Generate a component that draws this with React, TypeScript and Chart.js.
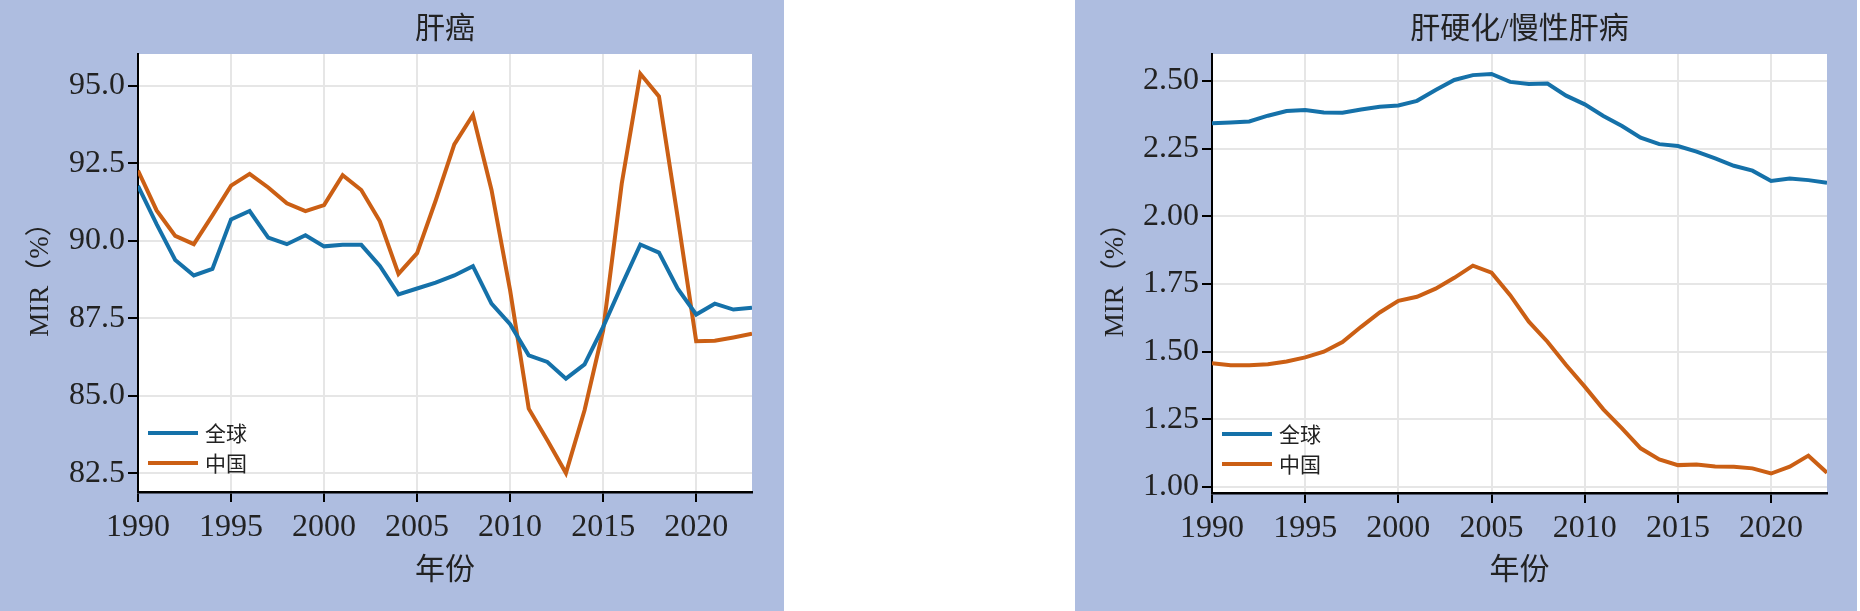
import { useEffect, useRef } from "react";
import { Chart, registerables, type ChartConfiguration, type Plugin } from "chart.js";

Chart.register(...registerables);

const years = [
  1990, 1991, 1992, 1993, 1994, 1995, 1996, 1997, 1998, 1999, 2000, 2001, 2002, 2003, 2004, 2005, 2006,
  2007, 2008, 2009, 2010, 2011, 2012, 2013, 2014, 2015, 2016, 2017, 2018, 2019, 2020, 2021, 2022, 2023,
];
const yearTicks = [1990, 1995, 2000, 2005, 2010, 2015, 2020];
const seriesLabels = ["全球", "中国"];

const cancerGlobal = [
  91.77, 90.54, 89.38, 88.88, 89.09, 90.69, 90.96, 90.1, 89.89, 90.18, 89.82, 89.87, 89.87, 89.19, 88.27,
  88.46, 88.65, 88.88, 89.18, 87.97, 87.31, 86.3, 86.09, 85.55, 86.01, 87.22, 88.57, 89.88, 89.62, 88.46,
  87.62, 87.97, 87.78, 87.84,
];
const cancerChina = [
  92.27, 90.98, 90.16, 89.89, 90.82, 91.78, 92.16, 91.72, 91.21, 90.96, 91.15, 92.12, 91.64, 90.63, 88.93,
  89.6, 91.3, 93.11, 94.06, 91.64, 88.4, 84.58, 83.56, 82.5, 84.53, 87.11, 91.85, 95.39, 94.66, 90.78, 86.76,
  86.77, 86.88, 87.0,
];
const cancerTicks = [82.5, 85.0, 87.5, 90.0, 92.5, 95.0];

const cirrhosisGlobal = [
  2.344, 2.347, 2.351, 2.372, 2.389, 2.393, 2.384, 2.383, 2.395, 2.405, 2.41, 2.427, 2.467, 2.504, 2.522,
  2.526, 2.497, 2.489, 2.491, 2.446, 2.414, 2.371, 2.334, 2.291, 2.267, 2.26, 2.239, 2.214, 2.187, 2.169,
  2.131, 2.14, 2.134, 2.124,
];
const cirrhosisChina = [
  1.457, 1.45, 1.45, 1.454, 1.464, 1.479, 1.5, 1.536, 1.592, 1.645, 1.688, 1.703, 1.733, 1.773, 1.818, 1.792,
  1.709, 1.611, 1.537, 1.451, 1.371, 1.287, 1.217, 1.143, 1.102, 1.081, 1.083, 1.076, 1.075, 1.069, 1.05,
  1.075, 1.116, 1.053,
];
const cirrhosisTicks = [1.0, 1.25, 1.5, 1.75, 2.0, 2.25, 2.5];

const BLUE = "#1571a9";
const ORANGE = "#cb5f14";
const PANEL = "#aebde0";
const INK = "#222222";
const GRID = "#e6e6e6";
const SERIF = "'Liberation Serif', 'Noto Sans CJK SC', serif";
const CJK = "'Noto Sans CJK SC', sans-serif";

const plotBackground: Plugin<"line"> = {
  id: "plotBackground",
  beforeDraw(chart) {
    const { ctx, chartArea } = chart;
    ctx.save();
    ctx.fillStyle = "#ffffff";
    ctx.fillRect(chartArea.left, chartArea.top, chartArea.right - chartArea.left, chartArea.bottom - chartArea.top);
    ctx.restore();
  },
};

// legend sits inside the plot, bottom-left
const insideLegend: Plugin<"line"> = {
  id: "insideLegend",
  afterDatasetsDraw(chart) {
    const { ctx, chartArea } = chart;
    ctx.save();
    ctx.font = `21px ${CJK}`;
    ctx.textBaseline = "middle";
    chart.data.datasets.forEach((ds, i) => {
      const y = chartArea.bottom - 59 + i * 30;
      ctx.strokeStyle = ds.borderColor as string;
      ctx.lineWidth = 4;
      ctx.beginPath();
      ctx.moveTo(chartArea.left + 10, y);
      ctx.lineTo(chartArea.left + 60, y);
      ctx.stroke();
      ctx.fillStyle = INK;
      ctx.fillText(ds.label ?? "", chartArea.left + 67, y);
    });
    ctx.restore();
  },
};

type PanelProps = {
  title: string;
  globalValues: number[];
  chinaValues: number[];
  yTicks: number[];
  yMin: number;
  yMax: number;
  digits: number;
  width: number;
  yWidth: number;
  xHeight: number;
  rightPad: number;
};

function PanelChart(props: PanelProps) {
  const canvasRef = useRef<HTMLCanvasElement>(null);
  const chartRef = useRef<Chart<"line"> | null>(null);

  useEffect(() => {
    const canvas = canvasRef.current;
    if (!canvas) {
      return;
    }
    if (chartRef.current) {
      chartRef.current.destroy();
    }

    const tickFont = { family: SERIF, size: 32 };

    const config: ChartConfiguration<"line"> = {
      type: "line",
      data: {
        datasets: [
          {
            label: seriesLabels[0],
            data: years.map((x, i) => ({ x, y: props.globalValues[i] })),
            borderColor: BLUE,
            borderWidth: 4,
            pointRadius: 0,
            tension: 0,
          },
          {
            label: seriesLabels[1],
            data: years.map((x, i) => ({ x, y: props.chinaValues[i] })),
            borderColor: ORANGE,
            borderWidth: 4,
            pointRadius: 0,
            tension: 0,
          },
        ],
      },
      options: {
        responsive: false,
        animation: false,
        layout: { padding: { left: 0, right: props.rightPad, top: 0, bottom: 0 } },
        plugins: {
          legend: { display: false },
          tooltip: { enabled: false },
          title: {
            display: true,
            text: props.title,
            fullSize: false,
            color: INK,
            font: { family: SERIF, size: 30, weight: "normal", lineHeight: 1.2 },
            padding: { top: 12, bottom: 6 },
          },
        },
        scales: {
          x: {
            type: "linear",
            min: 1990,
            max: 2023,
            afterFit: (scale) => {
              scale.height = props.xHeight;
            },
            afterBuildTicks: (scale) => {
              scale.ticks = yearTicks.map((value) => ({ value }));
            },
            ticks: {
              color: INK,
              font: tickFont,
              padding: 6,
              maxRotation: 0,
              autoSkip: false,
              callback: (v) => String(v),
            },
            grid: { color: GRID, lineWidth: 2, tickLength: 10, tickColor: "#000000", tickWidth: 2 },
            border: { color: "#000000", width: 2.5 },
            title: {
              display: true,
              text: "年份",
              color: INK,
              font: { family: SERIF, size: 30, lineHeight: 1.2 },
              padding: { top: 0, bottom: 22 },
            },
          },
          y: {
            type: "linear",
            min: props.yMin,
            max: props.yMax,
            afterFit: (scale) => {
              scale.width = props.yWidth;
            },
            afterBuildTicks: (scale) => {
              scale.ticks = props.yTicks.map((value) => ({ value }));
            },
            ticks: {
              color: INK,
              font: tickFont,
              padding: 3,
              callback: (v) => Number(v).toFixed(props.digits),
            },
            grid: { color: GRID, lineWidth: 2, tickLength: 10, tickColor: "#000000", tickWidth: 2 },
            border: { color: "#000000", width: 2 },
            title: {
              display: true,
              text: "MIR（%）",
              color: INK,
              font: { family: SERIF, size: 27, lineHeight: 1.2 },
              padding: { top: 25, bottom: 0 },
            },
          },
        },
      },
      plugins: [plotBackground, insideLegend],
    };

    chartRef.current = new Chart(canvas, config);

    return () => {
      chartRef.current?.destroy();
      chartRef.current = null;
    };
  }, [props]);

  return <canvas ref={canvasRef} width={props.width} height={611} />;
}

const cancerPanel: PanelProps = {
  title: "肝癌",
  globalValues: cancerGlobal,
  chinaValues: cancerChina,
  yTicks: cancerTicks,
  yMin: 81.89,
  yMax: 96.03,
  digits: 1,
  width: 784,
  yWidth: 138,
  xHeight: 119,
  rightPad: 32,
};

const cirrhosisPanel: PanelProps = {
  title: "肝硬化/慢性肝病",
  globalValues: cirrhosisGlobal,
  chinaValues: cirrhosisChina,
  yTicks: cirrhosisTicks,
  yMin: 0.978,
  yMax: 2.6,
  digits: 2,
  width: 782,
  yWidth: 137,
  xHeight: 118,
  rightPad: 30,
};

export default function App() {
  useEffect(() => {
    document.body.style.margin = "0";
  }, []);

  return (
    <div style={{ position: "relative", width: 1860, height: 611, background: "#ffffff" }}>
      <div style={{ position: "absolute", left: 0, top: 0, width: 784, height: 611, background: PANEL }}>
        <PanelChart {...cancerPanel} />
      </div>
      <div style={{ position: "absolute", left: 1075, top: 0, width: 782, height: 611, background: PANEL }}>
        <PanelChart {...cirrhosisPanel} />
      </div>
    </div>
  );
}
